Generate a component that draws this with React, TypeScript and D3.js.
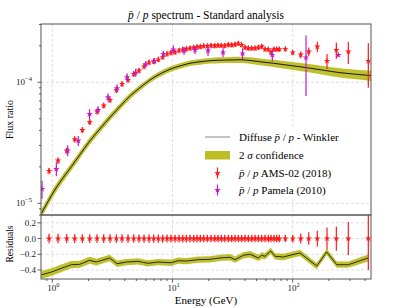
import * as d3 from "d3";

// AMS-02 (2018) pbar/p
const amsEnergy = [0.939, 1.115, 1.318, 1.536, 1.777, 2.047, 2.355, 2.677, 3.02, 3.408, 3.801, 4.265, 4.756, 5.265, 5.794, 6.376, 6.976, 7.618, 8.288, 9.0, 9.71, 10.49, 11.33, 12.16, 13.02, 13.98, 15.01, 15.99, 17.03, 18.18, 19.48, 20.91, 22.45, 23.91, 25.47, 27.19, 29.13, 31.09, 33.11, 35.27, 37.64, 40.11, 42.72, 45.6, 48.58, 51.74, 55.23, 58.83, 62.66, 65.99, 69.88, 73.6, 77.35, 86.78, 100.0, 116.6, 135.9, 160.2, 192.9, 230.6, 290.1, 425.6];
const amsValue = [1.85e-5, 2.25e-5, 2.72e-5, 3.38e-5, 4.03e-5, 4.7e-5, 5.72e-5, 6.41e-5, 7.14e-5, 8.64e-5, 9.68e-5, 1.045e-4, 1.171e-4, 1.247e-4, 1.351e-4, 1.458e-4, 1.486e-4, 1.543e-4, 1.618e-4, 1.714e-4, 1.757e-4, 1.77e-4, 1.832e-4, 1.867e-4, 1.884e-4, 1.91e-4, 1.939e-4, 1.957e-4, 1.969e-4, 1.995e-4, 1.995e-4, 2.007e-4, 2.007e-4, 2.014e-4, 2.014e-4, 2.007e-4, 2.045e-4, 2.033e-4, 2.053e-4, 2.093e-4, 2.033e-4, 1.939e-4, 1.91e-4, 1.91e-4, 1.91e-4, 1.939e-4, 1.978e-4, 1.873e-4, 1.873e-4, 1.77e-4, 1.873e-4, 1.873e-4, 1.873e-4, 1.884e-4, 1.763e-4, 1.691e-4, 1.79e-4, 1.969e-4, 1.5e-4, 1.849e-4, 1.79e-4, 1.5e-4];
const amsError = [0.06, 0.06, 0.058, 0.058, 0.056, 0.056, 0.055, 0.055, 0.055, 0.055, 0.054, 0.054, 0.054, 0.053, 0.053, 0.053, 0.052, 0.052, 0.052, 0.051, 0.051, 0.05, 0.05, 0.05, 0.05, 0.049, 0.049, 0.049, 0.048, 0.048, 0.048, 0.047, 0.047, 0.047, 0.047, 0.047, 0.047, 0.047, 0.047, 0.047, 0.047, 0.047, 0.047, 0.047, 0.047, 0.047, 0.047, 0.047, 0.047, 0.047, 0.047, 0.047, 0.047, 0.045, 0.05, 0.064, 0.08, 0.1, 0.14, 0.155, 0.21, 0.4];

// PAMELA (2010) pbar/p
const pamelaEnergy = [0.821, 1.08, 1.343, 1.645, 2.04, 2.4, 2.907, 3.454, 4.183, 4.941, 5.984, 7.058, 8.385, 10.15, 12.47, 15.39, 19.74, 26.31, 38.23, 67.67, 129.0, 239.6];
const pamelaValue = [1.312e-5, 1.92e-5, 2.732e-5, 3.291e-5, 5.47e-5, 5.9e-5, 7.52e-5, 8.92e-5, 1.1e-4, 1.2e-4, 1.409e-4, 1.5e-4, 1.714e-4, 1.867e-4, 1.825e-4, 1.849e-4, 1.825e-4, 1.763e-4, 1.73e-4, 1.681e-4, 1.603e-4, 1.681e-4];
const pamelaError = [0.17, 0.13, 0.105, 0.095, 0.095, 0.076, 0.076, 0.076, 0.076, 0.076, 0.057, 0.057, 0.057, 0.076, 0.076, 0.076, 0.095, 0.086, 0.105, 0.114, 0.52, 0.03];

// Winkler diffuse model
const modelEnergy = [0.81, 0.921, 1.047, 1.227, 1.439, 1.7, 1.982, 2.31, 2.729, 3.199, 3.75, 4.43, 5.164, 6.499, 7.87, 9.533, 11.54, 13.98, 16.93, 20.51, 24.85, 30.09, 36.45, 44.15, 53.46, 68.97, 94.95, 130.8, 178.7, 247.5, 336.2, 454.1];
const modelValue = [8.23e-6, 1.035e-5, 1.288e-5, 1.619e-5, 2.007e-5, 2.53e-5, 3.132e-5, 3.775e-5, 4.583e-5, 5.47e-5, 6.49e-5, 7.7e-5, 8.75e-5, 1.045e-4, 1.171e-4, 1.281e-4, 1.364e-4, 1.436e-4, 1.477e-4, 1.508e-4, 1.522e-4, 1.529e-4, 1.535e-4, 1.514e-4, 1.477e-4, 1.436e-4, 1.377e-4, 1.32e-4, 1.259e-4, 1.2e-4, 1.164e-4, 1.134e-4];
const modelBand = [0.08, 0.078, 0.076, 0.074, 0.072, 0.07, 0.068, 0.066, 0.064, 0.062, 0.06, 0.058, 0.056, 0.054, 0.053, 0.052, 0.052, 0.052, 0.053, 0.054, 0.055, 0.057, 0.059, 0.062, 0.065, 0.069, 0.073, 0.077, 0.082, 0.087, 0.092, 0.097];

// residuals of the model
const residEnergy = [0.81, 0.981, 1.268, 1.439, 1.69, 2.047, 2.323, 3.003, 3.454, 4.127, 5.164, 6.255, 7.575, 9.772, 11.11, 13.02, 16.3, 20.51, 24.85, 30.09, 33.11, 38.81, 44.15, 51.74, 55.23, 58.83, 65.61, 71.24, 83.52, 94.95, 115.0, 158.4, 191.8, 232.3, 290.1, 425.6];
const residValue = [-0.462, -0.427, -0.363, -0.333, -0.328, -0.277, -0.299, -0.247, -0.321, -0.299, -0.29, -0.315, -0.299, -0.308, -0.282, -0.286, -0.269, -0.264, -0.247, -0.238, -0.269, -0.213, -0.2, -0.247, -0.213, -0.226, -0.158, -0.226, -0.235, -0.213, -0.183, -0.35, -0.17, -0.333, -0.333, -0.247];
const residBand = [0.05, 0.05, 0.048, 0.046, 0.045, 0.044, 0.043, 0.042, 0.041, 0.04, 0.04, 0.04, 0.04, 0.04, 0.04, 0.04, 0.04, 0.04, 0.04, 0.04, 0.04, 0.04, 0.04, 0.04, 0.04, 0.04, 0.04, 0.04, 0.04, 0.04, 0.04, 0.04, 0.04, 0.04, 0.04, 0.045];

const residTicks = [0.2, 0.0, -0.2, -0.4];
const xMajor = [1, 10, 100];
const yMajor = [1e-5, 1e-4];

const W = 413;
const H = 308;
const left = 41;
const right = 371;
const top = 24;
const mid = 215;
const bottom = 279;

const font = "Liberation Serif, DejaVu Serif, serif";
const red = "#ff1a1a";
const magenta = "#c41cc4";
const olive = "#bcbd22";
const gridColor = "#d6d6d6";
const spine = "#555";

const x = d3.scaleLog().domain([0.805, 448]).range([left, right]);
const y = d3.scaleLog().domain([8e-6, 3.03e-4]).range([mid, top]);
const yr = d3.scaleLinear().domain([-0.515, 0.3]).range([bottom, mid]);

const star = d3.symbol(d3.symbolStar, 13)();

function Sup({ base, exp, ...rest }) {
  return (
    <text {...rest}>
      {base}
      <tspan dy={-4} fontSize={6.5}>
        {exp}
      </tspan>
    </text>
  );
}

function PBar() {
  return (
    <>
      <tspan fontStyle="italic">{"p\u0304"}</tspan>
      {" / "}
      <tspan fontStyle="italic">p</tspan>
    </>
  );
}

export default function App() {
  const model = modelEnergy.map((e, i) => ({ e, v: modelValue[i], s: modelBand[i] }));
  const resid = residEnergy.map((e, i) => ({ e, v: residValue[i], s: residBand[i] }));

  const bandArea = d3
    .area<any>()
    .x((d) => x(d.e))
    .y0((d) => y(d.v * (1 - d.s)))
    .y1((d) => y(d.v * (1 + d.s)))
    .curve(d3.curveMonotoneX);
  const modelLine = d3
    .line<any>()
    .x((d) => x(d.e))
    .y((d) => y(d.v))
    .curve(d3.curveMonotoneX);
  const residArea = d3
    .area<any>()
    .x((d) => x(d.e))
    .y0((d) => yr(d.v - d.s))
    .y1((d) => yr(d.v + d.s));
  const residLine = d3
    .line<any>()
    .x((d) => x(d.e))
    .y((d) => yr(d.v));

  const xMinor = x.ticks().filter((t) => !xMajor.includes(t));
  const yMinor = y.ticks().filter((t) => !yMajor.some((m) => Math.abs(m - t) / m < 1e-6));

  return (
    <div>
      <style>{`body{margin:0}`}</style>
      <svg width={W} height={H} fontFamily={font}>
        <defs>
          <clipPath id="clipMain">
            <rect x={left} y={top} width={right - left} height={mid - top} />
          </clipPath>
          <clipPath id="clipRes">
            <rect x={left} y={mid} width={right - left} height={bottom - mid} />
          </clipPath>
        </defs>
        <rect width={W} height={H} fill="white" />

        {/* title */}
        <text x={(left + right) / 2} y={19} fontSize={11.5} textAnchor="middle">
          <PBar /> spectrum - Standard analysis
        </text>

        {/* grids */}
        <g stroke={gridColor} strokeWidth={0.8} strokeDasharray="3,2">
          {xMajor.map((t) => (
            <g key={t}>
              <line x1={x(t)} x2={x(t)} y1={top} y2={mid} />
              <line x1={x(t)} x2={x(t)} y1={mid} y2={bottom} />
            </g>
          ))}
          {yMajor.map((t) => (
            <line key={t} x1={left} x2={right} y1={y(t)} y2={y(t)} />
          ))}
          {residTicks.map((t) => (
            <line key={t} x1={left} x2={right} y1={yr(t)} y2={yr(t)} />
          ))}
        </g>

        {/* main panel */}
        <g clipPath="url(#clipMain)">
          <path d={bandArea(model)} fill={olive} opacity={0.95} />
          <path d={modelLine(model)} fill="none" stroke="#1a1a1a" strokeWidth={1} />
          {amsEnergy.map((e, i) => {
            const v = amsValue[i];
            const s = amsError[i];
            return (
              <g key={"a" + i}>
                <line
                  x1={x(e)}
                  x2={x(e)}
                  y1={y(v * (1 - s))}
                  y2={y(v * (1 + s))}
                  stroke={red}
                  strokeWidth={1.2}
                />
                <path d={star} transform={`translate(${x(e)},${y(v)})`} fill={red} />
              </g>
            );
          })}
          {pamelaEnergy.map((e, i) => {
            const v = pamelaValue[i];
            const s = pamelaError[i];
            return (
              <g key={"p" + i}>
                <line
                  x1={x(e)}
                  x2={x(e)}
                  y1={y(v * (1 - s))}
                  y2={y(v * (1 + s))}
                  stroke={magenta}
                  strokeWidth={1.2}
                />
                <path d={star} transform={`translate(${x(e)},${y(v)})`} fill={magenta} />
              </g>
            );
          })}
        </g>

        {/* legend */}
        <g fontSize={11}>
          <rect x={198} y={126} width={168} height={73} fill="white" opacity={0.85} />
          <line x1={205} x2={230} y1={137} y2={137} stroke="#999" strokeWidth={1.2} />
          <text x={239} y={140.5}>
            Diffuse <PBar /> - Winkler
          </text>
          <rect x={205} y={151} width={25} height={8.5} fill={olive} />
          <text x={239} y={158.5}>
            2 <tspan fontStyle="italic">σ</tspan> confidence
          </text>
          <line x1={217.5} x2={217.5} y1={167.5} y2={178.5} stroke={red} strokeWidth={1.2} />
          <path d={star} transform="translate(217.5,173)" fill={red} />
          <text x={239} y={176.5}>
            <PBar /> AMS-02 (2018)
          </text>
          <line x1={217.5} x2={217.5} y1={184.5} y2={195.5} stroke={magenta} strokeWidth={1.2} />
          <path d={star} transform="translate(217.5,190)" fill={magenta} />
          <text x={239} y={193.5}>
            <PBar /> Pamela (2010)
          </text>
        </g>

        {/* residual panel */}
        <g clipPath="url(#clipRes)">
          <path d={residArea(resid)} fill={olive} opacity={0.95} />
          <path d={residLine(resid)} fill="none" stroke="#1a1a1a" strokeWidth={0.9} />
          {amsEnergy.map((e, i) => (
            <g key={"r" + i}>
              <line
                x1={x(e)}
                x2={x(e)}
                y1={yr(-amsError[i])}
                y2={yr(amsError[i])}
                stroke={red}
                strokeWidth={1.2}
              />
              <path d={star} transform={`translate(${x(e)},${yr(0)})`} fill={red} />
            </g>
          ))}
        </g>

        {/* frames */}
        <rect x={left} y={top} width={right - left} height={mid - top} fill="none" stroke={spine} strokeWidth={1} />
        <rect x={left} y={mid} width={right - left} height={bottom - mid} fill="none" stroke={spine} strokeWidth={1} />

        {/* ticks */}
        <g stroke="#333" strokeWidth={0.8}>
          {yMajor.map((t) => (
            <line key={t} x1={left - 3.5} x2={left} y1={y(t)} y2={y(t)} />
          ))}
          {yMinor.map((t) => (
            <line key={t} x1={left - 2} x2={left} y1={y(t)} y2={y(t)} />
          ))}
          {residTicks.map((t) => (
            <line key={t} x1={left - 3.5} x2={left} y1={yr(t)} y2={yr(t)} />
          ))}
          {xMajor.map((t) => (
            <line key={t} x1={x(t)} x2={x(t)} y1={bottom} y2={bottom + 3.5} />
          ))}
          {xMinor.map((t) => (
            <line key={t} x1={x(t)} x2={x(t)} y1={bottom} y2={bottom + 2} />
          ))}
        </g>
        <g fontSize={9} fill="#222">
          {yMajor.map((t) => (
            <Sup
              key={t}
              base="10"
              exp={"\u2212" + Math.round(-Math.log10(t))}
              x={left - 17}
              y={y(t) + 3}
              textAnchor="middle"
            />
          ))}
          {residTicks.map((t) => (
            <text key={t} x={left - 5} y={yr(t) + 3} textAnchor="end">
              {d3.format(".1f")(t).replace("-", "\u2212")}
            </text>
          ))}
          {xMajor.map((t) => (
            <Sup key={t} base="10" exp={String(Math.round(Math.log10(t)))} x={x(t) + 1} y={bottom + 12} textAnchor="middle" />
          ))}
        </g>

        {/* axis labels */}
        <text x={(left + right) / 2} y={304} fontSize={11} textAnchor="middle">
          Energy (GeV)
        </text>
        <text transform={`translate(13,${(top + mid) / 2}) rotate(-90)`} fontSize={10} textAnchor="middle">
          Flux ratio
        </text>
        <text transform={`translate(13,${(mid + bottom) / 2 - 3}) rotate(-90)`} fontSize={9.5} textAnchor="middle">
          Residuals
        </text>
      </svg>
    </div>
  );
}
